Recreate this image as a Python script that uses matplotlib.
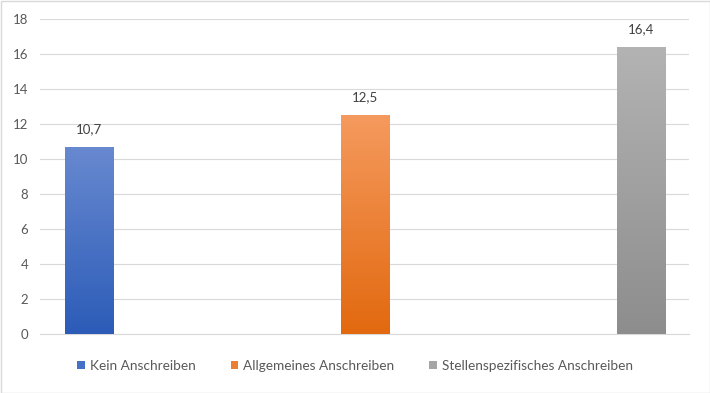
import matplotlib
matplotlib.use('Agg')
from matplotlib import pyplot as plt
from matplotlib.colors import LinearSegmentedColormap
from matplotlib.patches import Rectangle, Patch
import numpy as np

series = ['Kein Anschreiben', 'Allgemeines Anschreiben', 'Stellenspezifisches Anschreiben']
values = [10.7, 12.5, 16.4]
labels = ['10,7', '12,5', '16,4']
top_colors = ['#6889d0', '#f59a5e', '#b3b3b3']
bottom_colors = ['#2c5cb8', '#e2690f', '#8d8d8d']
legend_colors = ['#4472c4', '#ed7d31', '#a5a5a5']

plt.rcParams['font.family'] = ['Lato', 'DejaVu Sans']

fig = plt.figure(figsize=(7.1, 3.93), dpi=100)
ax = fig.add_axes([40/710, 1 - 334/393, 649/710, 315/393])

x = np.arange(len(series))
barWidth = 0.174
bars = ax.bar(x, values, width=barWidth, color='none', edgecolor='none', zorder=3)

grad = np.linspace(0, 1, 256).reshape(-1, 1)
for b, top, bot in zip(bars, top_colors, bottom_colors):
    cmap = LinearSegmentedColormap.from_list('g', [bot, top])
    im = ax.imshow(grad, cmap=cmap, origin='lower', aspect='auto', zorder=3,
                   extent=[b.get_x(), b.get_x() + b.get_width(), 0, b.get_height()])
    im.set_clip_path(b)

for xi, v, lab in zip(x, values, labels):
    ax.annotate(lab, (xi, v), xytext=(0, 8.5), textcoords='offset points',
                ha='center', va='bottom', fontsize=9.5, color='#404040')

ax.set_xlim(-0.178, 2.174)
ax.set_ylim(0, 18)
ax.set_yticks(np.arange(0, 19, 2))
ax.set_xticks([])
ax.yaxis.grid(True, color='#d9d9d9', linewidth=0.8, zorder=0)
ax.set_axisbelow(True)
for s in ax.spines.values():
    s.set_visible(False)
ax.spines['bottom'].set_visible(True)
ax.spines['bottom'].set_color('#d9d9d9')
ax.tick_params(axis='y', length=0, pad=8.5, labelsize=9.5, labelcolor='#595959')

handles = [Patch(facecolor=c, edgecolor='none') for c in legend_colors]
fig.legend(handles, series, loc='center', bbox_to_anchor=(0.5, 1 - 366/393),
           ncol=3, frameon=False, fontsize=9.8, labelcolor='#595959',
           handlelength=0.55, handleheight=0.55, handletextpad=0.35, columnspacing=2.6)

fig.add_artist(Rectangle((0.5/710, 0.5/393), 709/710, 392/393, transform=fig.transFigure,
                         fill=False, edgecolor='#d9d9d9', linewidth=1))

fig.savefig('out.png', dpi=100)
